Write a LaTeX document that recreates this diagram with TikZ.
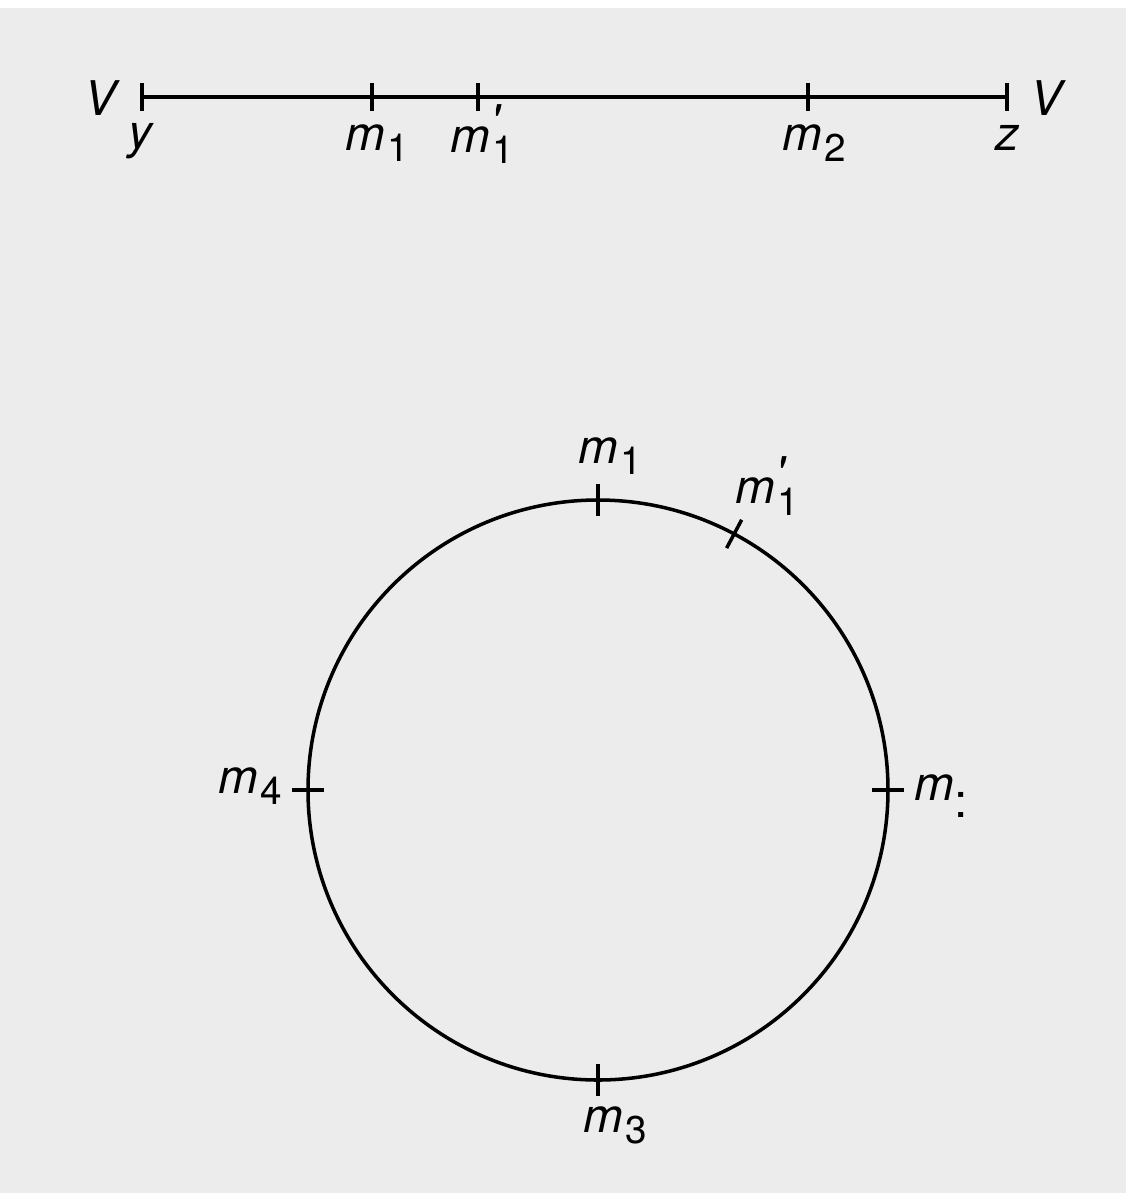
\documentclass[tikz,border=0pt]{standalone}
\usepackage{fontspec}
\setmainfont{TeX Gyre Heros}
\usetikzlibrary{positioning,calc}
\definecolor{paper}{RGB}{236,236,236}
\newcommand{\sbs}[1]{\raisebox{-0.45ex}{\fontsize{11}{12}\selectfont\kern0.5pt#1}}
\newcommand{\msub}[1]{\textit{m}\sbs{#1}}
\newcommand{\mprime}[1]{\textit{m}\rlap{\raisebox{0.55ex}{\textit{\textquotesingle}}}\sbs{#1}}
\tikzset{
  axis/.style={line width=1pt, black},
  tick/.style={line width=1pt, black},
  lbl/.style={font=\fontsize{13.6}{16}\selectfont, inner sep=0pt, anchor=base west}
}

\begin{document}
\begin{tikzpicture}[x=0.01cm, y=-0.01cm]
    \fill[white] (0,0) rectangle (1126,1193);
    \fill[paper] (0,8) rectangle (1126,1193);
    \useasboundingbox (0,0) rectangle (1126,1193);
    % the segment from y to z
    \coordinate (y) at (142,97);
    \coordinate (a1) at (372,97);
    \coordinate (a1p) at (478,97);
    \coordinate (a2) at (808,97);
    \coordinate (z) at (1007,97);
    \draw[axis] (y) -- (z);
    \foreach \p in {y,a1,a1p,a2,z}
      \draw[tick] ($(\p)+(0,-14)$) -- ($(\p)+(0,14)$);
    \node[lbl] (vl) at ($(y)+(-58,18)$) {\textit{V}};
    \node[lbl] (ly) at ($(y)+(-14,51)$) {\textit{y}};
    \node[lbl] (la1) at ($(a1)+(-27,53)$) {\msub{1}};
    \node[lbl] (la1p) at ($(a1p)+(-28,55)$) {\mprime{1}};
    \node[lbl] (la2) at ($(a2)+(-26,53)$) {\msub{2}};
    \node[lbl] (lz) at ($(z)+(-12,53)$) {\textit{z}};
    \node[lbl] (vr) at ($(z)+(23,18)$) {\textit{V}};
    % the circle
    \coordinate (o) at (598,790);
    \draw[axis] (o) circle[radius=290];
    \foreach \p/\ang in {c1/90, c1p/62, c2/0, c3/270, c4/180}
      \coordinate (\p) at ($(o)+(\ang:290 and -290)$);
    \foreach \p in {c1,c1p,c2,c3,c4}
      \draw[tick] ($(\p)!0.16cm!(o)$) -- ($(\p)!-0.16cm!(o)$);
    \node[lbl] (lc1) at ($(c1)+(-20,-37)$) {\msub{1}};
    \node[lbl] (lc1p) at ($(c1p)+(1,-30)$) {\mprime{1}};
    \node[lbl] (lc2) at ($(c2)+(26,10)$) {\textit{m}\raisebox{-5pt}{:}};
    \node[lbl] (lc3) at ($(c3)+(-15,52)$) {\msub{3}};
    \node[lbl] (lc4) at ($(c4)+(-90,3)$) {\msub{4}};
\end{tikzpicture}
\end{document}
